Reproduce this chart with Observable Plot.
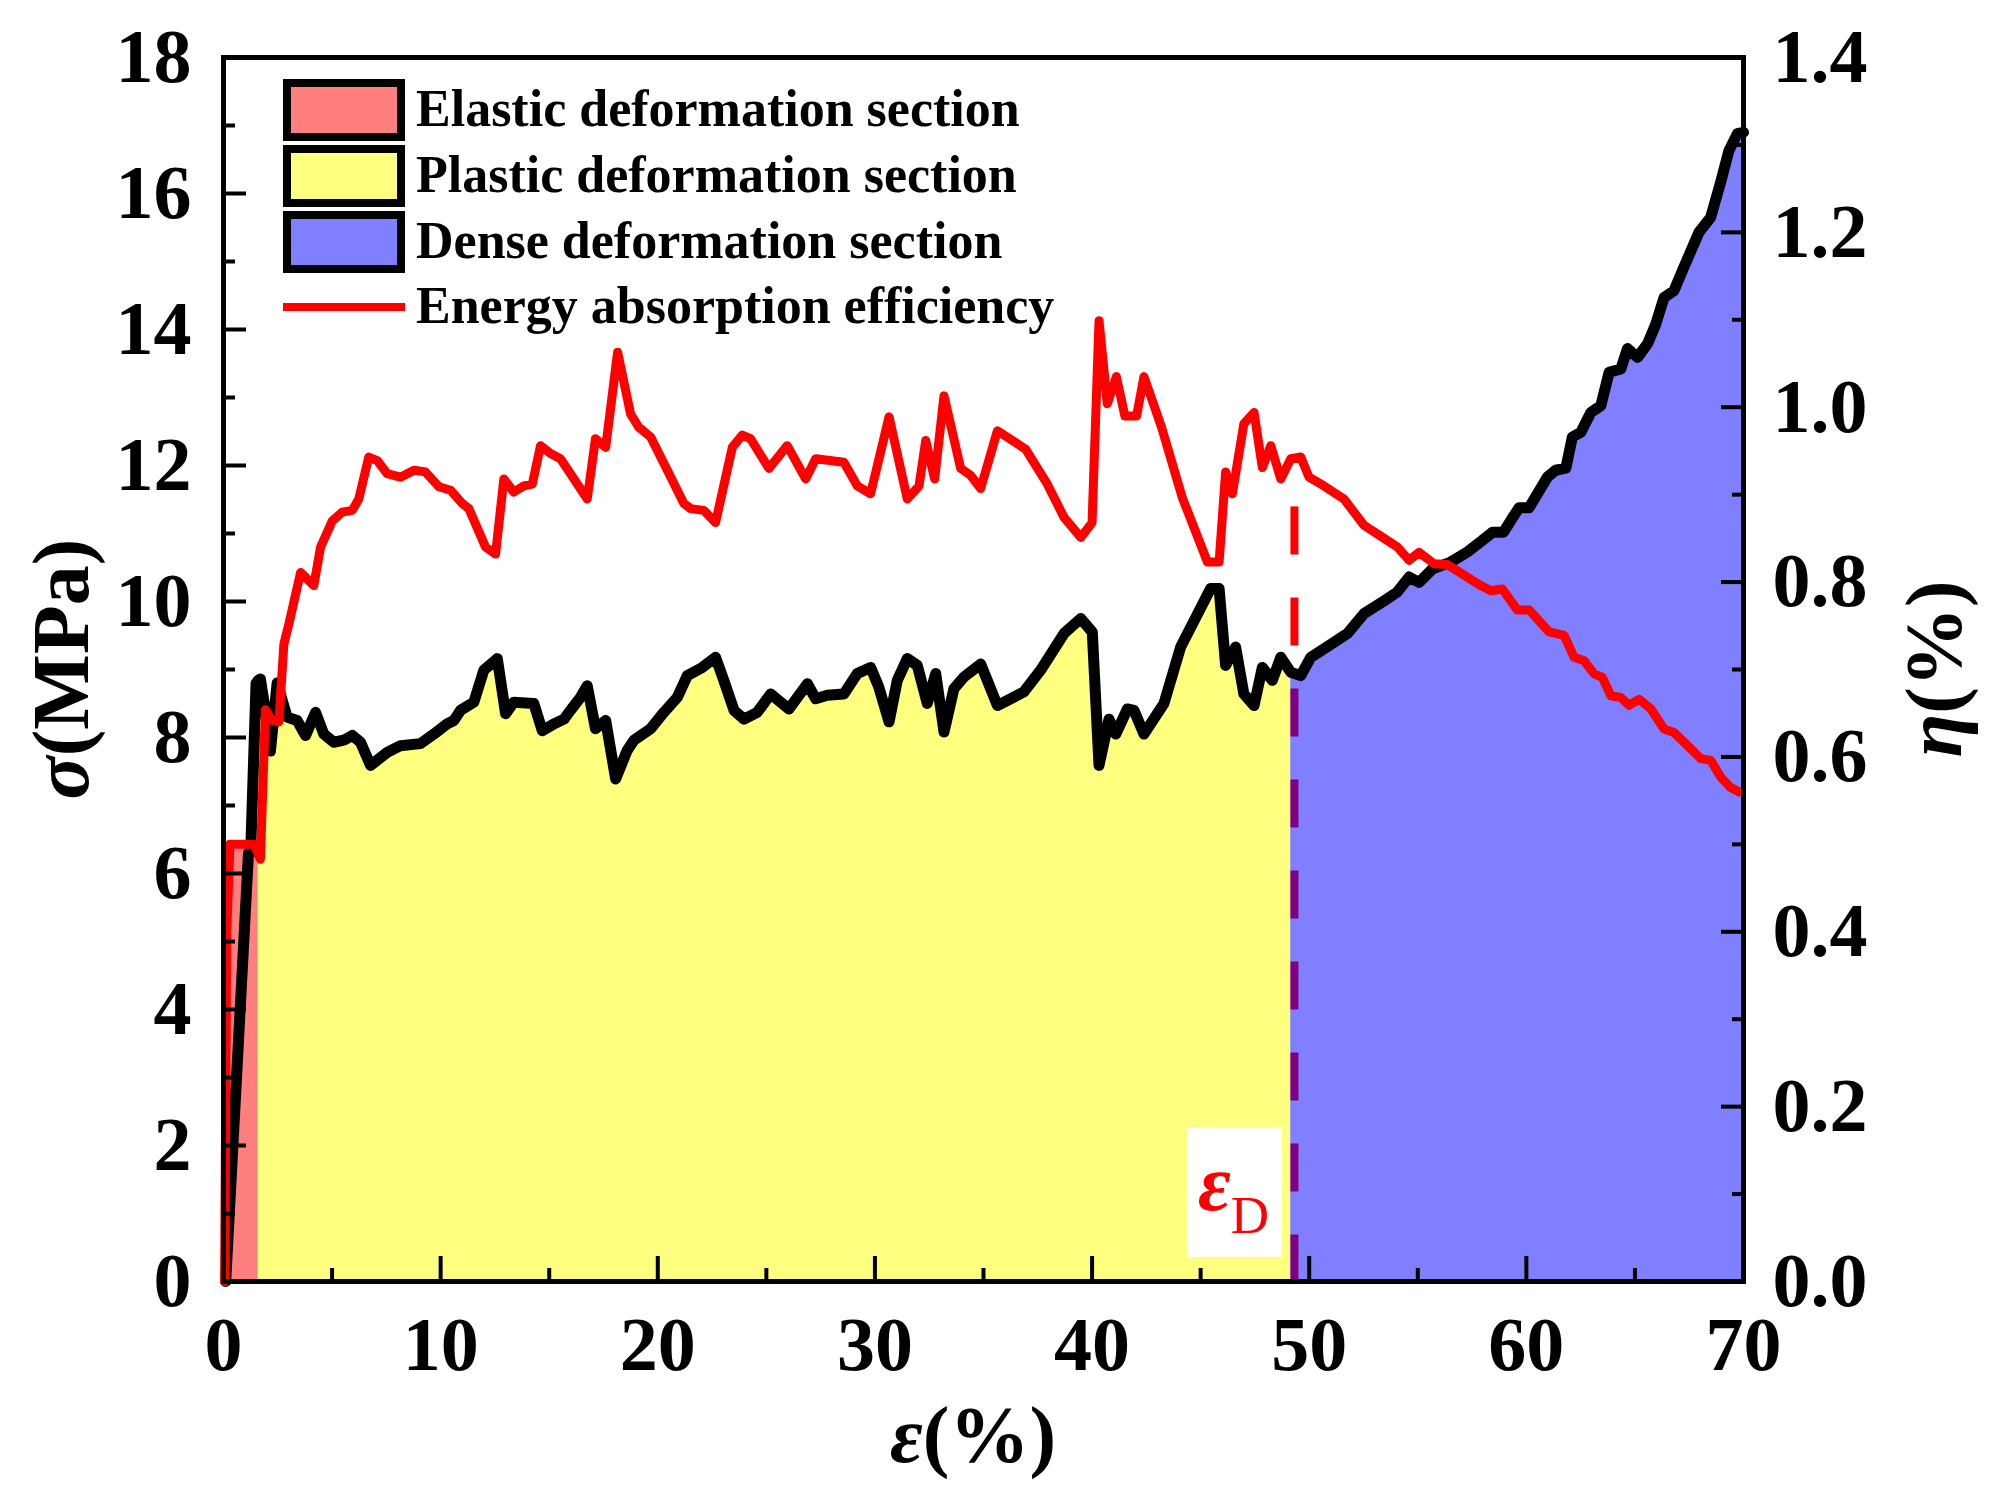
<!DOCTYPE html>
<html><head><meta charset="utf-8">
<script src="https://cdn.jsdelivr.net/npm/d3@7"></script>
<script src="https://cdn.jsdelivr.net/npm/@observablehq/plot@0.6"></script>
<style>html,body{margin:0;padding:0;background:#fff;}</style>
</head><body><div id="chart"></div>
<script>
// ---- data ----
const strainS = [0.1,1.15,1.25,1.5,1.6,1.7,1.9,2.16,2.47,2.7,2.93,3.39,3.78,4.24,4.62,5.08,5.54,5.93,6.31,6.77,7.54,8.15,9.07,9.69,10.3,10.61,10.92,11.53,11.99,12.61,12.99,13.37,14.29,14.68,15.21,15.68,15.98,16.44,16.75,17.13,17.6,18.06,18.59,18.9,19.67,20.28,20.9,21.36,22.05,22.66,23.04,23.51,23.97,24.58,25.2,26.04,26.89,27.27,27.81,28.57,29.19,29.8,30.18,30.65,31.03,31.49,31.95,32.41,32.8,33.18,33.64,34.1,34.87,35.64,36.86,37.63,38.71,39.48,40.01,40.32,40.78,41.09,41.63,41.93,42.39,43.31,44.08,45.46,45.85,46.15,46.61,46.99,47.46,47.84,48.3,48.69,49.15,49.61,50.07,51.14,51.76,52.52,53.45,54.06,54.6,55.06,55.68,56.52,57.29,57.9,58.45,58.95,59.4,59.67,60.13,60.97,61.35,61.82,62.12,62.51,62.97,63.43,63.81,64.35,64.66,65.12,65.58,65.96,66.34,66.8,67.26,67.95,68.49,68.95,69.33,69.72,70.0];
const stress = [0,6.3,6.3,8.8,8.84,8.86,8.45,7.8,8.8,8.55,8.3,8.25,8.03,8.37,8.05,7.93,7.96,8.03,7.93,7.59,7.78,7.88,7.91,8.05,8.2,8.25,8.4,8.52,8.99,9.16,8.35,8.52,8.5,8.1,8.2,8.27,8.4,8.59,8.76,8.13,8.25,7.39,7.81,7.96,8.13,8.37,8.59,8.91,9.03,9.18,8.84,8.4,8.27,8.37,8.64,8.42,8.79,8.57,8.62,8.64,8.94,9.03,8.74,8.23,8.84,9.16,9.06,8.5,8.94,8.08,8.72,8.89,9.08,8.47,8.67,8.99,9.53,9.75,9.55,7.59,8.27,8.05,8.42,8.4,8.05,8.5,9.33,10.19,10.19,9.06,9.33,8.64,8.47,9.03,8.84,9.18,8.96,8.91,9.18,9.4,9.53,9.82,10.01,10.14,10.36,10.28,10.48,10.58,10.73,10.88,11.02,11.02,11.25,11.38,11.38,11.83,11.93,11.96,12.42,12.49,12.78,12.88,13.37,13.42,13.72,13.59,13.79,14.08,14.47,14.57,14.92,15.43,15.65,16.17,16.63,16.88,16.9];

const strainE = [0.05,0.15,0.3,1.4,1.6,1.7,1.93,2.24,2.55,2.78,3.01,3.55,4.16,4.47,5.01,5.47,5.93,6.23,6.69,7.08,7.54,8.15,8.77,9.3,9.92,10.46,10.99,11.3,12.07,12.53,12.91,13.37,13.83,14.22,14.6,15.06,15.52,15.98,16.75,17.13,17.6,18.15,18.75,19.13,19.67,20.44,21.2,21.51,22.12,22.66,23.43,23.89,24.27,25.12,25.96,26.81,27.27,28.57,29.19,29.8,30.65,31.49,32.03,32.34,32.75,33.18,33.95,34.41,34.87,35.64,36.94,37.94,38.71,39.48,40.0,40.32,40.7,41.12,41.51,42.05,42.39,43.2,44.15,45.31,45.85,46.15,46.46,46.99,47.46,47.84,48.23,48.69,49.15,49.61,49.99,50.68,51.6,52.52,53.45,54.06,54.6,55.06,55.75,56.36,57.13,57.9,58.36,58.9,59.59,60.13,61.05,61.74,62.2,62.66,63.12,63.5,63.89,64.35,64.73,65.19,65.73,66.34,66.8,67.42,68.03,68.49,68.95,69.41,69.8];
const eta = [0,0.40,0.50,0.50,0.489,0.483,0.654,0.642,0.640,0.729,0.752,0.811,0.796,0.840,0.870,0.880,0.882,0.895,0.943,0.939,0.924,0.920,0.928,0.926,0.909,0.905,0.890,0.884,0.840,0.832,0.918,0.903,0.910,0.912,0.956,0.947,0.941,0.924,0.895,0.964,0.954,1.063,0.992,0.977,0.966,0.928,0.890,0.884,0.882,0.868,0.954,0.968,0.964,0.930,0.956,0.918,0.941,0.937,0.910,0.901,0.989,0.895,0.910,0.962,0.918,1.013,0.930,0.922,0.907,0.973,0.952,0.912,0.874,0.851,0.868,1.099,1.004,1.035,0.990,0.990,1.035,0.977,0.897,0.823,0.823,0.926,0.901,0.981,0.994,0.931,0.956,0.918,0.941,0.943,0.920,0.910,0.895,0.865,0.850,0.840,0.825,0.834,0.821,0.820,0.808,0.796,0.790,0.792,0.768,0.768,0.743,0.739,0.714,0.710,0.695,0.691,0.670,0.668,0.659,0.666,0.655,0.632,0.628,0.613,0.598,0.596,0.577,0.565,0.560];

const xTicks = [0,10,20,30,40,50,60,70];
const xMinor = [5,15,25,35,45,55,65];
const yTicks = [0,2,4,6,8,10,12,14,16,18];
const yMinor = [1,3,5,7,9,11,13,15,17];
const etaTicks = [0,0.2,0.4,0.6,0.8,1.0,1.2,1.4];
const etaMinor = [0.1,0.3,0.5,0.7,0.9,1.1,1.3];

const sectionNames = ["Elastic deformation section","Plastic deformation section","Dense deformation section"];
const sectionColors = ["#ff0000","#ffff00","#0000ff"];
const lineName = "Energy absorption efficiency";
const elasticEnd = 1.6, denseStart = 49.15, epsD = 49.32, dashTop = 0.886;
const etaMax = 1.4, sigmaMax = 18;
const k = sigmaMax / etaMax;

const blackData = strainS.map((x, i) => ({x, s: stress[i]}));
const redData = strainE.map((x, i) => ({x, e: eta[i]}));

const FONT = "'Liberation Serif','Times New Roman',Times,serif";
const tickOpts = {tickFormat: () => "", strokeWidth: 4, label: null};

const plot = Plot.plot({
  width: 1989, height: 1506,
  marginLeft: 223, marginRight: 246, marginTop: 57, marginBottom: 225,
  x: {domain: [0, 70]},
  y: {domain: [0, sigmaMax]},
  style: `font-family:${FONT};font-weight:bold;background:#fff;overflow:visible;`,
  marks: [
    Plot.ruleX([epsD], {y1: dashTop * k, y2: 0, stroke: "#ff0000", strokeWidth: 8, strokeDasharray: "48,43"}),
    Plot.areaY(redData.filter(d => d.x <= elasticEnd), {x: "x", y: d => d.e * k, fill: sectionColors[0], fillOpacity: 0.5}),
    Plot.areaY(blackData.filter(d => d.x >= elasticEnd && d.x <= denseStart), {x: "x", y: "s", fill: sectionColors[1], fillOpacity: 0.5}),
    Plot.areaY(blackData.filter(d => d.x >= denseStart), {x: "x", y: "s", fill: sectionColors[2], fillOpacity: 0.5}),
    Plot.line(blackData, {x: "x", y: "s", stroke: "#000", strokeWidth: 11, strokeLinejoin: "round"}),
    Plot.line(redData, {x: "x", y: d => d.e * k, stroke: "#ff0000", strokeWidth: 9, strokeLinejoin: "round"}),
    Plot.frame({stroke: "#000", strokeWidth: 5}),
    Plot.axisX(xTicks, {anchor: "bottom", tickSize: -25, ...tickOpts}),
    Plot.axisX(xMinor, {anchor: "bottom", tickSize: -13, ...tickOpts}),
    Plot.axisX(xTicks, {anchor: "bottom", tickSize: 0, tickPadding: 35, fontSize: 76, label: null, tickFormat: d3.format("d")}),
    Plot.axisY(yTicks, {anchor: "left", tickSize: -23, ...tickOpts}),
    Plot.axisY(yMinor, {anchor: "left", tickSize: -12, ...tickOpts}),
    Plot.axisY(yTicks, {anchor: "left", tickSize: 0, tickPadding: 32, fontSize: 76, label: null, tickFormat: d3.format("d")}),
    Plot.axisY(etaTicks.map(v => v * k), {anchor: "right", tickSize: -23, ...tickOpts}),
    Plot.axisY(etaMinor.map(v => v * k), {anchor: "right", tickSize: -12, ...tickOpts}),
    Plot.axisY(etaTicks.map(v => v * k), {anchor: "right", tickSize: 0, tickPadding: 29, fontSize: 76, label: null,
      tickFormat: d => d3.format(".1f")(d / k)})
  ]
});
document.getElementById("chart").appendChild(plot);

const svg = d3.select(plot);
const xs = plot.scale("x"), ys = plot.scale("y");
const x0 = xs.apply(0), x1 = xs.apply(70), y0 = ys.apply(0), y1 = ys.apply(sigmaMax);

// axis titles
const left = svg.append("text").attr("transform", `translate(61,${(y0 + y1) / 2}) rotate(-90)`)
  .attr("text-anchor", "middle").attr("dominant-baseline", "central")
  .style("font-size", "80px").style("font-weight", "bold").attr("fill", "#000");
left.append("tspan").style("font-style", "italic").text("σ");
left.append("tspan").text("(MPa)");

const right = svg.append("text").attr("transform", `translate(1934,${(y0 + y1) / 2}) rotate(-90)`)
  .attr("text-anchor", "middle").attr("dominant-baseline", "central")
  .style("font-size", "80px").style("font-weight", "bold").attr("fill", "#000");
right.append("tspan").style("font-style", "italic").text("η");
right.append("tspan").text("(%)");

const bottom = svg.append("text").attr("x", (x0 + x1) / 2 - 10).attr("y", 1462)
  .attr("text-anchor", "middle").style("font-size", "80px").style("font-weight", "bold").attr("fill", "#000");
bottom.append("tspan").style("font-style", "italic").text("ε");
bottom.append("tspan").text("(%)");

// epsilon_D label with white box
const xd = xs.apply(epsD);
svg.append("rect").attr("x", xd - 107).attr("y", 1127).attr("width", 95).attr("height", 130).attr("fill", "#fff");
const lab = svg.append("text").attr("x", xd - 96).attr("y", 1210).attr("fill", "#ff0000")
  .attr("text-anchor", "start");
lab.append("tspan").style("font-style", "italic").style("font-weight", "bold").style("font-size", "80px").text("ε");
lab.append("tspan").attr("dy", 23).style("font-weight", "normal").style("font-size", "53px").text("D");

// legend
const lg = svg.append("g").attr("text-anchor", "start");
sectionNames.forEach((name, i) => {
  const cy = 110 + i * 66;
  lg.append("rect").attr("x", 287).attr("y", cy - 27).attr("width", 114).attr("height", 54)
    .attr("fill", "#fff").attr("stroke", "none");
  lg.append("rect").attr("x", 287).attr("y", cy - 27).attr("width", 114).attr("height", 54)
    .attr("fill", sectionColors[i]).attr("fill-opacity", 0.5).attr("stroke", "#000").attr("stroke-width", 8);
  lg.append("text").attr("x", 416).attr("y", cy + 16).attr("text-anchor", "start")
    .style("font-size", "52px").style("font-weight", "bold").attr("fill", "#000").text(name);
});
lg.append("line").attr("x1", 283).attr("x2", 405).attr("y1", 307).attr("y2", 307)
  .attr("stroke", "#ff0000").attr("stroke-width", 8);
lg.append("text").attr("x", 416).attr("y", 323).attr("text-anchor", "start")
  .style("font-size", "52px").style("font-weight", "bold").attr("fill", "#000").text(lineName);
</script>
</body></html>
